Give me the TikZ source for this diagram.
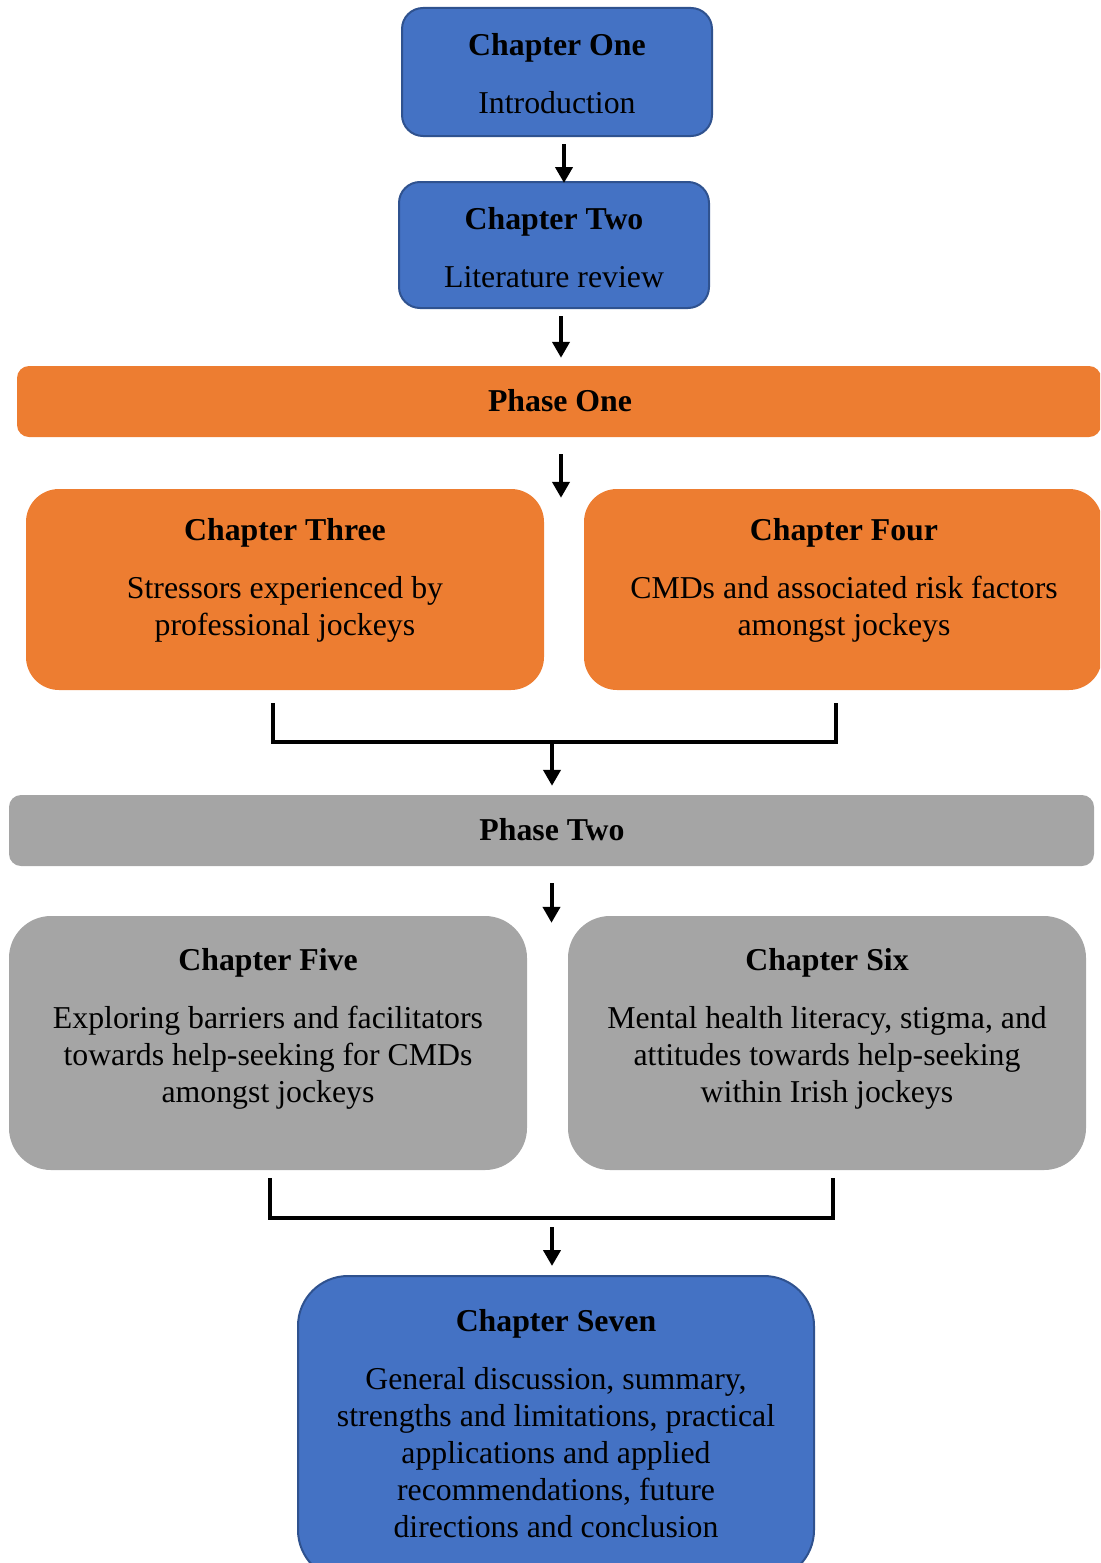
\documentclass[tikz,border=0pt]{standalone}
\usepackage{fontspec}
\setmainfont{Liberation Serif}
\usetikzlibrary{arrows.meta}
\definecolor{cblue}{HTML}{4472C4}
\definecolor{cblueline}{HTML}{2F528F}
\definecolor{corange}{HTML}{ED7D31}
\definecolor{cgrey}{HTML}{A5A5A5}
\begin{document}
\begin{tikzpicture}[x=1pt, y=-1pt,
  box/.style={rectangle, inner sep=0pt},
  bluebox/.style={box, fill=cblue, draw=cblueline, line width=2pt},
  orangebox/.style={box, fill=corange},
  greybox/.style={box, fill=cgrey},
  txt/.style={align=center, inner sep=0pt, anchor=base,
    font=\fontsize{31.8}{37}\selectfont},
  arr/.style={line width=4pt, -{Triangle[length=16pt,width=17pt]}},
  bracket/.style={line width=4pt}
]
\useasboundingbox (0,0) rectangle (1100,1563);
\clip (0,0) rectangle (1100,1563);

% chapter boxes and phase bars
\node[bluebox, rounded corners=21, minimum width=310, minimum height=128] (c1) at (557,72) {};
\node[bluebox, rounded corners=21, minimum width=310, minimum height=126] (c2) at (554,245) {};
\node[orangebox, rounded corners=12, minimum width=1084, minimum height=71] (p1) at (559,401.5) {};
\node[orangebox, rounded corners=33, minimum width=518, minimum height=201] (c3) at (285,589.5) {};
\node[orangebox, rounded corners=33, minimum width=518, minimum height=201] (c4) at (843,589.5) {};
\node[greybox, rounded corners=12, minimum width=1085, minimum height=71] (p2) at (551.5,830.5) {};
\node[greybox, rounded corners=42, minimum width=518, minimum height=254] (c5) at (268,1043) {};
\node[greybox, rounded corners=42, minimum width=518, minimum height=254] (c6) at (827,1043) {};
\node[bluebox, rounded corners=50, minimum width=516, minimum height=304] (c7) at (556,1428) {};

% texts (anchored at the baseline of their last line)
\node[txt] (t1) at (557,113) {\textbf{Chapter One}\\[21pt]Introduction};
\node[txt] (t2) at (554,287) {\textbf{Chapter Two}\\[21pt]Literature review};
\node[txt] (tp1) at (560,411) {\textbf{Phase One}};
\node[txt] (t3) at (285,635) {\textbf{Chapter Three}\\[21pt]Stressors experienced by\\professional jockeys};
\node[txt] (t4) at (844,635) {\textbf{Chapter Four}\\[21pt]CMDs and associated risk factors\\amongst jockeys};
\node[txt] (tp2) at (552,840) {\textbf{Phase Two}};
\node[txt] (t5) at (268,1102) {\textbf{Chapter Five}\\[21pt]Exploring barriers and facilitators\\towards help-seeking for CMDs\\amongst jockeys};
\node[txt] (t6) at (827,1102) {\textbf{Chapter Six}\\[21pt]Mental health literacy, stigma, and\\attitudes towards help-seeking\\within Irish jockeys};
\node[txt] (t7) at (556,1537) {\textbf{Chapter Seven}\\[21pt]General discussion, summary,\\strengths and limitations, practical\\applications and applied\\recommendations, future\\directions and conclusion};

% connectors
\draw[arr] ([shift={(7,7)}]c1.south) -- ([shift={(10,2)}]c2.north);
\draw[arr] ([shift={(7,7)}]c2.south) -- ([shift={(2,-8)}]p1.north);

\coordinate (m3) at (p1.south |- c3.north);
\draw[arr] ([shift={(2,17)}]p1.south) -- ([shift={(2,9)}]m3);

\coordinate (j1) at (552,742);
\draw[bracket] ([shift={(-12,13)}]c3.south) |- (j1) -| ([shift={(-7,13)}]c4.south);
\draw[arr] (j1) -- ([shift={(0.5,-9)}]p2.north);

\coordinate (m5) at (p2.south |- c5.north);
\draw[arr] ([shift={(0,17)}]p2.south) -- ([shift={(0,7)}]m5);

\coordinate (j2) at (552,1218);
\draw[bracket] ([shift={(2,8)}]c5.south) |- (j2) -| ([shift={(6,8)}]c6.south);
\draw[arr] ([shift={(0,9)}]j2) -- ([shift={(-4,-9)}]c7.north);
\end{tikzpicture}
\end{document}
